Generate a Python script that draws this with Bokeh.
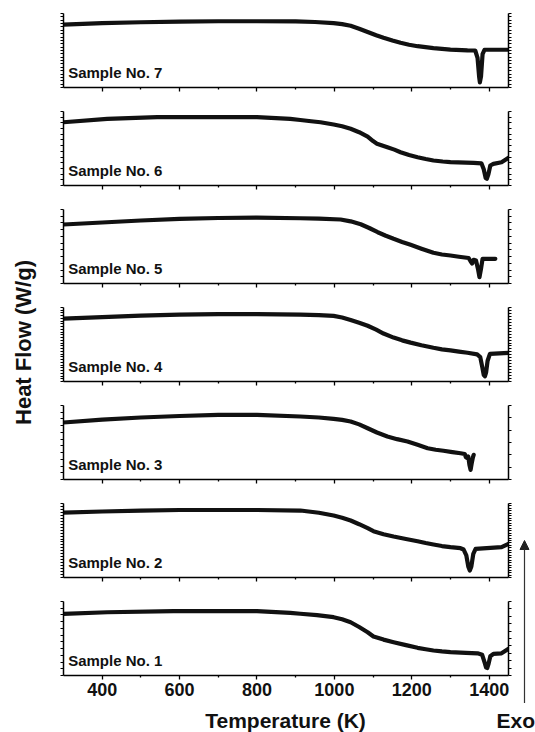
import numpy as np
from bokeh.plotting import figure
from bokeh.models import Range1d, LinearAxis, FixedTicker, Label, Arrow, NormalHead, CustomJSTickFormatter
from bokeh.layouts import column, row
from bokeh.embed import file_html
from bokeh.resources import INLINE

# ---------------- data (heat flow in panel-relative units) ----------------
T7 = [300, 400, 500, 600, 700, 800, 900, 950, 998, 1020, 1042, 1064, 1086, 1108, 1127, 1150, 1171, 1193, 1215, 1256, 1300, 1344, 1364, 1370, 1374, 1376, 1379, 1383, 1388, 1450]
H7 = [0.85, 0.87, 0.882, 0.89, 0.895, 0.895, 0.893, 0.885, 0.869, 0.857, 0.835, 0.795, 0.75, 0.705, 0.672, 0.635, 0.604, 0.578, 0.558, 0.531, 0.512, 0.502, 0.50, 0.40, 0.15, 0.07, 0.15, 0.45, 0.51, 0.51]

T6 = [300, 413, 542, 650, 800, 886, 912, 940, 964, 998, 1020, 1042, 1064, 1086, 1100, 1110, 1137, 1155, 1171, 1193, 1215, 1236, 1256, 1280, 1300, 1360, 1380, 1386, 1391, 1394, 1398, 1403, 1411, 1432, 1450]
H6 = [0.855, 0.90, 0.923, 0.925, 0.923, 0.90, 0.885, 0.868, 0.855, 0.824, 0.80, 0.766, 0.72, 0.66, 0.60, 0.565, 0.518, 0.485, 0.45, 0.412, 0.382, 0.358, 0.338, 0.324, 0.315, 0.307, 0.30, 0.22, 0.10, 0.09, 0.15, 0.27, 0.293, 0.315, 0.374]

T5 = [300, 400, 500, 600, 700, 800, 912, 960, 1016, 1042, 1068, 1090, 1112, 1133, 1153, 1175, 1197, 1225, 1256, 1278, 1300, 1322, 1347, 1352, 1356, 1360, 1366, 1371, 1375, 1379, 1383, 1416]
H5 = [0.797, 0.824, 0.851, 0.872, 0.885, 0.89, 0.882, 0.878, 0.865, 0.84, 0.80, 0.75, 0.693, 0.645, 0.604, 0.562, 0.523, 0.47, 0.415, 0.392, 0.378, 0.362, 0.345, 0.30, 0.27, 0.32, 0.31, 0.20, 0.085, 0.20, 0.334, 0.334]

T4 = [300, 400, 500, 600, 700, 800, 912, 960, 998, 1020, 1042, 1064, 1086, 1108, 1127, 1153, 1175, 1197, 1225, 1256, 1278, 1300, 1322, 1344, 1369, 1377, 1382, 1386, 1389, 1392, 1396, 1402, 1450]
H4 = [0.85, 0.87, 0.89, 0.904, 0.911, 0.911, 0.904, 0.898, 0.886, 0.865, 0.832, 0.795, 0.753, 0.70, 0.648, 0.593, 0.556, 0.525, 0.49, 0.456, 0.435, 0.42, 0.403, 0.388, 0.366, 0.33, 0.20, 0.09, 0.07, 0.12, 0.28, 0.374, 0.388]

T3 = [300, 400, 500, 600, 700, 800, 912, 960, 998, 1020, 1042, 1064, 1086, 1110, 1137, 1162, 1189, 1215, 1241, 1262, 1282, 1305, 1326, 1337, 1340, 1343, 1346, 1349, 1352, 1355, 1358, 1360]
H3 = [0.77, 0.81, 0.838, 0.858, 0.872, 0.872, 0.851, 0.838, 0.82, 0.805, 0.784, 0.745, 0.693, 0.635, 0.581, 0.545, 0.514, 0.47, 0.423, 0.402, 0.388, 0.37, 0.355, 0.345, 0.30, 0.29, 0.31, 0.20, 0.13, 0.22, 0.30, 0.334]

T2 = [300, 400, 500, 600, 700, 800, 912, 960, 998, 1020, 1042, 1064, 1086, 1101, 1127, 1153, 1185, 1215, 1236, 1256, 1278, 1300, 1326, 1334, 1341, 1346, 1350, 1354, 1359, 1365, 1432, 1450]
H2 = [0.878, 0.892, 0.905, 0.912, 0.912, 0.912, 0.905, 0.875, 0.838, 0.808, 0.77, 0.72, 0.666, 0.626, 0.585, 0.554, 0.52, 0.49, 0.466, 0.446, 0.425, 0.41, 0.396, 0.378, 0.30, 0.15, 0.095, 0.15, 0.32, 0.388, 0.41, 0.455]

T1 = [300, 413, 584, 800, 886, 912, 955, 998, 1020, 1042, 1064, 1086, 1101, 1127, 1153, 1185, 1215, 1236, 1256, 1278, 1300, 1340, 1370, 1382, 1388, 1392, 1395, 1398, 1403, 1411, 1432, 1450]
H1 = [0.834, 0.855, 0.869, 0.869, 0.847, 0.834, 0.815, 0.788, 0.76, 0.72, 0.655, 0.585, 0.527, 0.485, 0.45, 0.41, 0.374, 0.355, 0.338, 0.325, 0.315, 0.305, 0.30, 0.28, 0.18, 0.11, 0.10, 0.15, 0.26, 0.293, 0.30, 0.36]

sample_names = ["Sample No. 7", "Sample No. 6", "Sample No. 5", "Sample No. 4",
                "Sample No. 3", "Sample No. 2", "Sample No. 1"]
x_major_ticks = [400, 600, 800, 1000, 1200, 1400]
x_minor_ticks = [500, 700, 900, 1100, 1300]
x_title = "Temperature (K)"
y_title = "Heat Flow (W/g)"
exo_text = "Exo"

# ---------------- style ----------------
FONT = "Liberation Sans"
INK = "#111111"
X_START, X_END = 300, 1450
series = [(T7, H7), (T6, H6), (T5, H5), (T4, H4), (T3, H3), (T2, H2), (T1, H1)]
left_ticks_n = [22, 13, 11, 27, 11, 25, 11]
right_ticks_n = [22, 13, 11, 25, 6, 30, 10]

PANEL_W = 478
RIGHT_W = 19
TITLE_W = 38
BOTTOM_H = 29


def blank_fig(w, h, xr, yr):
    f = figure(width=w, height=h, x_range=xr, y_range=yr, output_backend="svg",
               toolbar_location=None, x_axis_type=None, y_axis_type=None, title=None,
               min_border=0, min_border_left=0, min_border_right=0,
               min_border_top=0, min_border_bottom=0)
    f.outline_line_color = None
    f.grid.visible = False
    return f


panels = []
for i, ((T, H), name) in enumerate(zip(series, sample_names)):
    bottom = (i == len(series) - 1)
    p = figure(width=PANEL_W, height=115 if bottom else 98, title=None,
               x_range=Range1d(X_START, X_END), y_range=Range1d(0, 1),
               output_backend="svg", toolbar_location=None,
               min_border_left=25, min_border_right=8, min_border_top=13,
               min_border_bottom=28 if bottom else 11)
    p.outline_line_color = None
    p.grid.visible = False

    xa = p.xaxis[0]
    xa.ticker = FixedTicker(ticks=x_major_ticks, minor_ticks=x_minor_ticks)
    xa.major_tick_out = 4
    xa.major_tick_in = 0
    xa.minor_tick_out = 2
    xa.minor_tick_in = 0
    xa.axis_line_width = 1.5
    xa.axis_line_color = "black"
    xa.major_tick_line_width = 1.3
    xa.minor_tick_line_width = 1.3
    if bottom:
        xa.major_label_text_font = FONT
        xa.major_label_text_font_size = "18px"
        xa.major_label_text_font_style = "bold"
        xa.major_label_text_color = INK
        xa.major_label_standoff = 3
    else:
        xa.formatter = CustomJSTickFormatter(code="return ''")
        xa.major_label_text_font_size = "1px"
        xa.major_label_standoff = 0

    ya = p.yaxis[0]
    ya.ticker = FixedTicker(ticks=[], minor_ticks=list(np.linspace(0, 1, left_ticks_n[i] + 1)))
    ya.minor_tick_out = 3
    ya.minor_tick_in = 0
    ya.minor_tick_line_width = 1.1
    ya.axis_line_width = 1.5
    ya.axis_line_color = "black"
    ya.major_label_standoff = 0

    ra = LinearAxis(ticker=FixedTicker(ticks=[], minor_ticks=list(np.linspace(0, 1, right_ticks_n[i] + 1))))
    ra.minor_tick_out = 3
    ra.minor_tick_in = 0
    ra.minor_tick_line_width = 1.1
    ra.axis_line_width = 1.5
    ra.axis_line_color = "black"
    ra.major_label_standoff = 0
    p.add_layout(ra, "right")

    p.line(T, H, line_width=4.2, line_color=INK, line_join="round", line_cap="round")

    p.add_layout(Label(x=312, y=0.205, text=name, text_font=FONT, text_font_size="15px",
                       text_font_style="bold", text_color=INK, text_baseline="middle"))
    panels.append(p)

stack_h = 6 * 98 + 115

# right strip with the "Exo" arrow (coordinates in page pixels)
rf = blank_fig(RIGHT_W, stack_h, Range1d(TITLE_W + PANEL_W, TITLE_W + PANEL_W + RIGHT_W), Range1d(stack_h, 0))
rf.add_layout(Arrow(end=NormalHead(size=9, fill_color="#222222", line_color="#222222", line_width=1),
                    x_start=524, y_start=stack_h, x_end=524, y_end=540,
                    line_width=1.2, line_color="#333333"))

# bottom strip with the x title and "Exo"
total_h = stack_h + BOTTOM_H
bf = blank_fig(PANEL_W + RIGHT_W, BOTTOM_H, Range1d(TITLE_W, TITLE_W + PANEL_W + RIGHT_W), Range1d(total_h, stack_h))
bf.add_layout(Label(x=285, y=719.5, text=x_title, text_font=FONT, text_font_size="21px",
                    text_font_style="bold", text_color=INK, text_align="center",
                    text_baseline="middle"))
bf.add_layout(Label(x=534.5, y=719.5, text=exo_text, text_font=FONT, text_font_size="21px",
                    text_font_style="bold", text_color=INK, text_align="right",
                    text_baseline="middle"))

# left strip with the y title
tf = blank_fig(TITLE_W, total_h, Range1d(0, TITLE_W), Range1d(total_h, 0))
tf.add_layout(Label(x=23, y=342, text=y_title, angle=np.pi / 2, text_font=FONT,
                    text_font_size="22px", text_font_style="bold", text_color=INK,
                    text_align="center", text_baseline="middle"))

layout = row(tf, column(row(column(*panels, spacing=0), rf, spacing=0), bf, spacing=0), spacing=0)
open("out.html", "w").write(file_html(layout, INLINE))
